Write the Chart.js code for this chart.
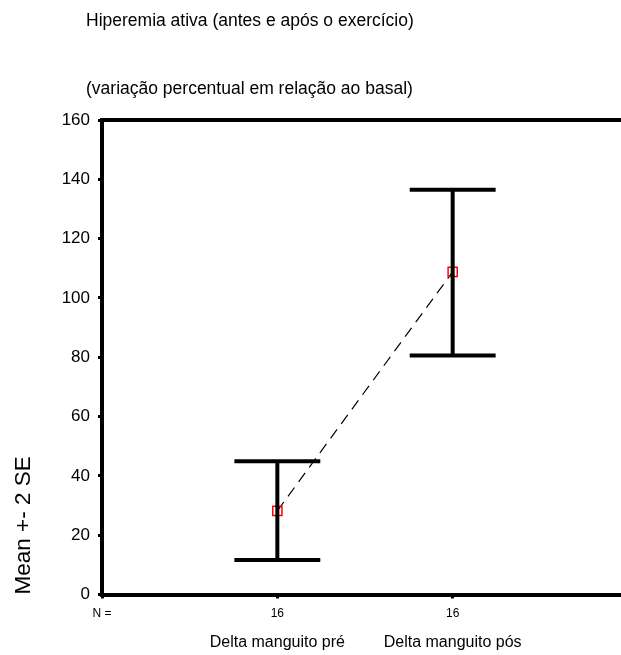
<!DOCTYPE html>
<html>
<head>
<meta charset="utf-8">
<script src="https://cdn.jsdelivr.net/npm/chart.js@4/dist/chart.umd.min.js"></script>
<style>
    html, body { margin: 0; padding: 0; background: #fff; }
    #wrap { width: 621px; height: 655px; }
</style>
</head>
<body>
<div id="wrap"><canvas id="grafico" width="621" height="655"></canvas></div>
<script>
const categorias = ['Delta manguito pré', 'Delta manguito pós'];
const posicoes = [1, 2];
const nAmostra = [16, 16];
const medias = [28.2, 108.8];
const limiteInferior = [11.6, 80.6];
const limiteSuperior = [44.9, 136.5];
const titulos = ['Hiperemia ativa (antes e após o exercício)', '(variação percentual em relação ao basal)'];
const tituloY = 'Mean +- 2 SE';

const fonte = "'Liberation Sans', Arial, sans-serif";
const xMax = 2.96;
const meiaLarguraCap = 0.245;

var datasets = [];

// barras de erro: linha vertical + dois caps
posicoes.forEach(function (p, i) {
    datasets.push({
        data: [{x: p, y: limiteInferior[i]}, {x: p, y: limiteSuperior[i]}],
        showLine: true, borderColor: '#000', borderWidth: 4, pointRadius: 0
    });
    [limiteInferior[i], limiteSuperior[i]].forEach(function (v) {
        datasets.push({
            data: [{x: p - meiaLarguraCap, y: v}, {x: p + meiaLarguraCap, y: v}],
            showLine: true, borderColor: '#000', borderWidth: 4, pointRadius: 0
        });
    });
});

// linha tracejada entre as médias
datasets.push({
    data: posicoes.map((p, i) => ({x: p, y: medias[i]})),
    showLine: true, borderColor: '#000', borderWidth: 1.2, borderDash: [11, 7],
    pointRadius: 6.5, pointStyle: 'rect', pointBorderColor: '#ff0000',
    pointBackgroundColor: 'rgba(0,0,0,0)', pointBorderWidth: 1.5
});

const legendas = {
    id: 'legendas',
    afterDraw(chart) {
        let ctx = chart.ctx;
        ctx.save();
        ctx.fillStyle = '#000';
        ctx.font = '17.5px ' + fonte;
        ctx.textBaseline = 'middle';
        ctx.textAlign = 'left';
        ctx.fillText(titulos[0], 86, 21);
        ctx.fillText(titulos[1], 86, 89);
        ctx.restore();
    }
};

var ctx = document.getElementById('grafico').getContext('2d');
var grafico = new Chart(ctx, {
    type: 'scatter',
    data: { datasets: datasets },
    plugins: [legendas],
    options: {
        responsive: false,
        animation: false,
        layout: { autoPadding: false, padding: { top: 120, right: 0, left: 0, bottom: 0 } },
        plugins: { legend: { display: false }, tooltip: { enabled: false } },
        scales: {
            y: {
                min: 0, max: 160,
                ticks: { stepSize: 20, color: '#000', padding: 8, font: { family: fonte, size: 17 } },
                grid: { drawOnChartArea: false, drawTicks: true, tickLength: 4, tickWidth: 3, tickColor: '#000' },
                border: { display: true, color: '#000', width: 4 },
                title: { display: true, text: tituloY, align: 'start', color: '#000',
                         font: { family: fonte, size: 22.5 }, padding: { top: 10, bottom: 0 } },
                afterFit: function (s) { s.width = 102; }
            },
            x: {
                type: 'linear', position: 'bottom', min: 0, max: xMax,
                afterBuildTicks: function (s) { s.ticks = [0].concat(posicoes).map(v => ({value: v})); },
                ticks: {
                    color: '#000', padding: 8, font: { family: fonte, size: 12 },
                    callback: function (v) { return v === 0 ? 'N =' : String(nAmostra[posicoes.indexOf(v)]); }
                },
                grid: { drawOnChartArea: false, drawTicks: true, tickLength: 4, tickWidth: 3, tickColor: '#000' },
                border: { display: true, color: '#000', width: 4 },
                afterFit: function (s) { s.height = 28; }
            },
            xCat: {
                type: 'linear', position: 'bottom', min: 0, max: xMax,
                afterBuildTicks: function (s) { s.ticks = posicoes.map(v => ({value: v})); },
                ticks: {
                    color: '#000', padding: 2, font: { family: fonte, size: 16 },
                    callback: function (v) { return categorias[posicoes.indexOf(v)]; }
                },
                grid: { display: false },
                border: { display: false },
                afterFit: function (s) { s.height = 32.5; }
            },
            xTopo: {
                type: 'linear', position: 'top', min: 0, max: xMax,
                ticks: { display: false },
                grid: { display: false },
                border: { display: true, color: '#000', width: 4 },
                afterFit: function (s) { s.height = 0; }
            }
        }
    }
});
</script>
</body>
</html>
